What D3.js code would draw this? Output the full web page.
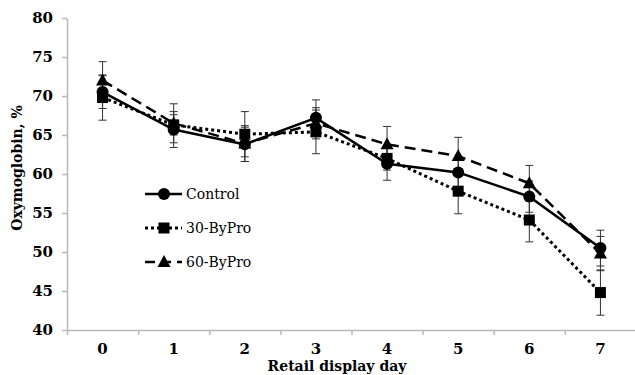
<!DOCTYPE html>
<html>
<head>
<meta charset="utf-8">
<script src="https://cdn.jsdelivr.net/npm/d3@7"></script>
<style>
  body { margin: 0; background: #fff; }
</style>
</head>
<body>
<div id="chart"></div>
<script>
const days = [0, 1, 2, 3, 4, 5, 6, 7];
const y_ticks = [40, 45, 50, 55, 60, 65, 70, 75, 80];

const control_values = [70.5, 65.7, 63.8, 67.2, 61.3, 60.2, 57.1, 50.5];
const control_err = [2.1, 2.3, 2.2, 2.3, 2.1, 2.0, 2.0, 2.3];
const bypro30_values = [69.8, 66.3, 65.1, 65.4, 62.0, 57.8, 54.1, 44.8];
const bypro30_err = [2.9, 1.3, 2.9, 2.8, 1.5, 2.9, 2.8, 2.9];
const bypro60_values = [72.0, 66.5, 63.9, 66.5, 63.8, 62.3, 58.8, 49.8];
const bypro60_err = [2.4, 2.5, 2.3, 2.0, 2.3, 2.4, 2.3, 2.2];

const series_names = ["Control", "30-ByPro", "60-ByPro"];

const width = 635;
const height = 375;
const margin = {top: 18, right: 0, bottom: 45, left: 67};

const series = [
    {name: series_names[0], values: control_values, err: control_err, dash: null, marker: "circle"},
    {name: series_names[1], values: bypro30_values, err: bypro30_err, dash: "3 3", marker: "square"},
    {name: series_names[2], values: bypro60_values, err: bypro60_err, dash: "11 6", marker: "triangle"}
];

const svg = d3.select("#chart").append("svg")
    .attr("width", width)
    .attr("height", height);

// x: category boundaries at half steps
const x = d3.scaleLinear().domain([-0.5, 7.5]).range([margin.left, width + 1 - margin.right]);
const y = d3.scaleLinear().domain([40, 80]).range([height - margin.bottom, margin.top]);

// axes
const xAxis = svg.append("g")
    .attr("transform", `translate(0,${y(40)})`)
    .call(d3.axisBottom(x)
        .tickValues(d3.range(-0.5, 8, 1))
        .tickFormat("")
        .tickSize(5)
        .tickSizeOuter(0));
xAxis.selectAll("line, path").attr("stroke", "#b8b8b8").attr("stroke-width", 1.5);

svg.append("g").selectAll("text")
    .data(days)
    .join("text")
    .attr("x", d => x(d))
    .attr("y", y(40) + 24)
    .attr("text-anchor", "middle")
    .attr("font-family", "DejaVu Serif")
    .attr("font-weight", "bold")
    .attr("font-size", 15)
    .text(d => d);

const yAxis = svg.append("g")
    .attr("transform", `translate(${margin.left},0)`)
    .call(d3.axisLeft(y).tickValues(y_ticks).tickSize(5).tickSizeOuter(0).tickPadding(9));
yAxis.selectAll("line, path").attr("stroke", "#b8b8b8").attr("stroke-width", 1.5);
yAxis.selectAll("text")
    .attr("font-family", "DejaVu Serif")
    .attr("font-weight", "bold")
    .attr("font-size", 15)
    .attr("fill", "#000");

// axis titles
svg.append("text")
    .attr("x", 337)
    .attr("y", 371)
    .attr("text-anchor", "middle")
    .attr("font-family", "DejaVu Serif")
    .attr("font-weight", "bold")
    .attr("font-size", 14)
    .text("Retail display day");

svg.append("text")
    .attr("transform", "translate(22,168) rotate(-90)")
    .attr("text-anchor", "middle")
    .attr("font-family", "DejaVu Serif")
    .attr("font-weight", "bold")
    .attr("font-size", 14)
    .text("Oxymoglobin, %");

// error bars
series.forEach(s => {
    const g = svg.append("g").attr("stroke", "#333").attr("stroke-width", 1);
    days.forEach((d, i) => {
        const cx = x(d);
        const hi = y(s.values[i] + s.err[i]);
        const lo = y(s.values[i] - s.err[i]);
        g.append("line").attr("x1", cx).attr("x2", cx).attr("y1", hi).attr("y2", lo);
        g.append("line").attr("x1", cx - 4).attr("x2", cx + 4).attr("y1", hi).attr("y2", hi);
        g.append("line").attr("x1", cx - 4).attr("x2", cx + 4).attr("y1", lo).attr("y2", lo);
    });
});

const line = d3.line().x((d, i) => x(days[i])).y(d => y(d));

function drawMarker(g, type, cx, cy) {
    if (type === "circle") {
        g.append("circle").attr("cx", cx).attr("cy", cy).attr("r", 6).attr("fill", "#000");
    } else if (type === "square") {
        g.append("rect").attr("x", cx - 5.5).attr("y", cy - 5.5).attr("width", 11).attr("height", 11).attr("fill", "#000");
    } else {
        g.append("path")
            .attr("d", `M${cx},${cy - 7}L${cx + 6.5},${cy + 5}L${cx - 6.5},${cy + 5}Z`)
            .attr("fill", "#000");
    }
}

// lines and markers (draw control last so it sits on top)
[series[2], series[1], series[0]].forEach(s => {
    svg.append("path")
        .datum(s.values)
        .attr("fill", "none")
        .attr("stroke", "#000")
        .attr("stroke-width", s.marker === "square" ? 3 : 2.5)
        .attr("stroke-dasharray", s.dash)
        .attr("d", line);
    const g = svg.append("g");
    s.values.forEach((v, i) => drawMarker(g, s.marker, x(days[i]), y(v)));
});

// legend
const legend = svg.append("g");
series.forEach((s, i) => {
    const ly = 194 + i * 34;
    legend.append("line")
        .attr("x1", 145).attr("x2", 182)
        .attr("y1", ly).attr("y2", ly)
        .attr("stroke", "#000")
        .attr("stroke-width", s.marker === "square" ? 3 : 2.5)
        .attr("stroke-dasharray", s.marker === "triangle" ? "10 6" : s.dash);
    drawMarker(legend, s.marker, 164, ly);
    legend.append("text")
        .attr("x", 186)
        .attr("y", ly + 5)
        .attr("font-family", "DejaVu Serif")
        .attr("font-size", 14)
        .text(s.name);
});
</script>
</body>
</html>
